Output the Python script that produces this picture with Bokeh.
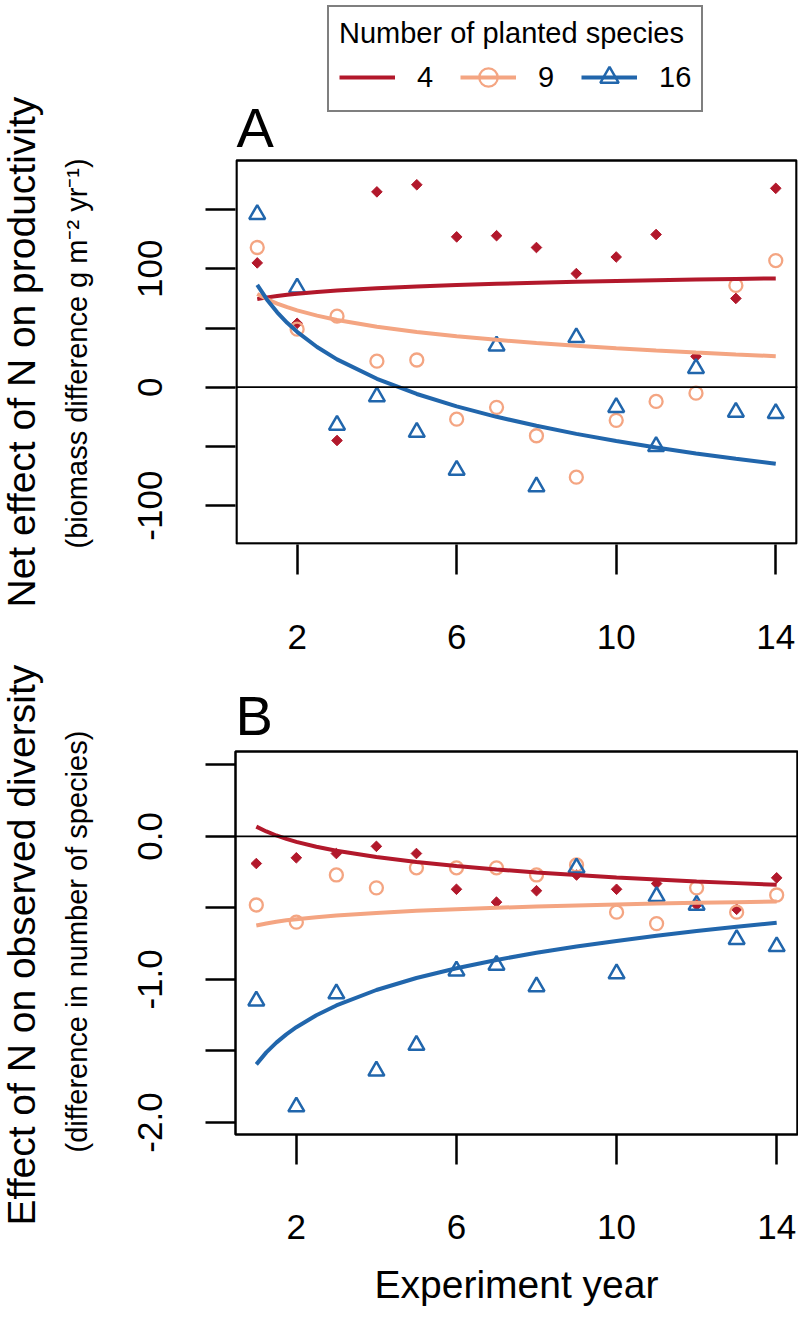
import math
from bokeh.plotting import figure
from bokeh.models import (Span, Title, Label, Legend, LegendItem, FixedTicker,
                          Range1d, BoxAnnotation)
from bokeh.layouts import column
from bokeh.embed import file_html
from bokeh.resources import INLINE

# ---------------- data ----------------
years = [1, 2, 3, 4, 5, 6, 7, 8, 9, 10, 11, 12, 13, 14]
x_ticks = [2, 6, 10, 14]

# Panel A: net effect of N on productivity (g m-2 yr-1)
a_red = [105, 54, -45, 165, 171, 127, 128, 118, 96, 110, 129, 26, 75, 168]
a_orange = [118, 49, 60, 22, 23, -27, -17, -41, -76, -28, -12, -5, 86, 107]
a_blue = [146, 84, -32, -8, -38, -70, 35, -84, 42, -17, -50, 16, -21, -22]

fit_x = [1, 1.25, 1.5, 1.75, 2, 2.5, 3, 4, 5, 6, 7, 8, 9, 10, 11, 12, 13, 14]
a_red_fit = [74.4, 75.9, 77.1, 78.1, 79.0, 80.5, 81.7, 83.6, 85.1, 86.3, 87.3,
             88.2, 89.0, 89.7, 90.3, 90.9, 91.4, 91.9]
a_orange_fit = [78.7, 74.3, 70.6, 67.6, 64.9, 60.5, 56.8, 51.1, 46.7, 43.0, 40.0,
                37.3, 35.0, 32.9, 31.0, 29.3, 27.7, 26.2]
a_blue_fit = [86.5, 73.7, 63.3, 54.4, 46.8, 34.0, 23.5, 7.1, -5.7, -16.2, -25.0,
              -32.6, -39.4, -45.4, -50.9, -55.9, -60.5, -64.7]

a_ylim = (-132, 191.5)
a_ticks = [-100, -50, 0, 50, 100, 150]
a_tick_labels = ["-100", "", "0", "", "100", ""]

# Panel B: effect of N on observed diversity (number of species)
b_red = [-0.19, -0.15, -0.12, -0.07, -0.12, -0.37, -0.46, -0.38, -0.27, -0.37,
         -0.33, -0.48, -0.51, -0.29]
b_orange = [-0.48, -0.60, -0.27, -0.36, -0.22, -0.22, -0.22, -0.27, -0.20, -0.53,
            -0.61, -0.36, -0.53, -0.41]
b_blue = [-1.15, -1.89, -1.10, -1.64, -1.46, -0.94, -0.90, -1.05, -0.22, -0.96,
          -0.42, -0.48, -0.72, -0.77]

b_red_fit = [0.068, 0.034, 0.006, -0.018, -0.039, -0.073, -0.101, -0.145, -0.180,
             -0.208, -0.232, -0.252, -0.270, -0.287, -0.301, -0.315, -0.327, -0.339]
b_orange_fit = [-0.623, -0.609, -0.597, -0.587, -0.579, -0.565, -0.553, -0.535,
                -0.520, -0.509, -0.499, -0.491, -0.483, -0.476, -0.470, -0.465,
                -0.460, -0.455]
b_blue_fit = [-1.594, -1.510, -1.442, -1.384, -1.334, -1.250, -1.182, -1.074,
              -0.990, -0.922, -0.864, -0.814, -0.770, -0.731, -0.695, -0.662,
              -0.632, -0.604]

b_ylim = (-2.084, 0.593)
b_ticks = [-2.0, -1.5, -1.0, -0.5, 0.0, 0.5]
b_tick_labels = ["-2.0", "", "-1.0", "", "0.0", ""]

series_names = ["4", "9", "16"]
legend_title = "Number of planted species"
x_label = "Experiment year"
a_main = "Net effect of N on productivity"
a_sub = "(biomass difference g m\u207b\u00b2 yr\u207b\u00b9)"
b_main = "Effect of N on observed diversity"
b_sub = "(difference in number of species)"

# ---------------- style ----------------
FONT = "Liberation Sans"
RED = "#B2182B"
ORANGE = "#F4A582"
BLUE = "#2166AC"
X_LIM = (0.48, 14.52)
PANEL_W = 562            # px between x = 0.48 and x = 14.52
PANEL_H = 383            # px of the data box
SUB_STANDOFF = 81
MAIN_STANDOFF = -44
A_HEIGHT = 660
B_HEIGHT = 1325 - A_HEIGHT


def style(p):
    p.xgrid.grid_line_color = None
    p.ygrid.grid_line_color = None
    p.background_fill_color = "white"
    p.border_fill_color = "white"
    for ax in p.axis:
        ax.axis_line_color = None
        ax.major_tick_out = 30
        ax.major_tick_in = 0
        ax.major_tick_line_width = 2.5
        ax.major_tick_line_color = "black"
        ax.minor_tick_line_color = None
        ax.major_label_text_font = FONT
        ax.major_label_text_font_size = "35px"
        ax.major_label_text_color = "black"
        ax.axis_label_text_font = FONT
        ax.axis_label_text_font_style = "normal"
        ax.axis_label_text_color = "black"
    p.xaxis.ticker = FixedTicker(ticks=x_ticks)
    p.xaxis.major_label_standoff = 50
    p.yaxis.major_label_orientation = "vertical"
    p.yaxis.major_label_standoff = 43


def left_titles(p, sub, main, align, sub_offset=0, main_offset=0):
    p.add_layout(Title(text=sub, align=align, offset=sub_offset,
                       vertical_align="top", standoff=SUB_STANDOFF,
                       text_font=FONT, text_font_size="29px",
                       text_font_style="normal", text_color="black"), "left")
    p.add_layout(Title(text=main, align=align, offset=main_offset,
                       vertical_align="bottom", standoff=MAIN_STANDOFF,
                       text_font=FONT, text_font_size="39px",
                       text_font_style="normal", text_color="black"), "left")


def draw_series(p, pts, fits):
    (xr, yr_), (xo, yo), (xb, yb) = pts
    p.scatter(xr, yr_, marker="square", angle=math.pi / 4, size=7.5,
              fill_color=RED, line_color=RED)
    o_pts = p.scatter(xo, yo, marker="circle", size=13, fill_color=None,
                      line_color=ORANGE, line_width=2.3)
    b_pts = p.scatter(xb, yb, marker="triangle", size=16, fill_color=None,
                      line_color=BLUE, line_width=2.5)
    fr, fo, fb = fits
    r_line = p.line(fit_x, fr, line_color=RED, line_width=4)
    o_line = p.line(fit_x, fo, line_color=ORANGE, line_width=4)
    b_line = p.line(fit_x, fb, line_color=BLUE, line_width=4)
    return r_line, o_line, b_line, o_pts, b_pts


# ---------- panel A: frame extended up to the page top (legend + letter inside)
xpu = PANEL_W / (X_LIM[1] - X_LIM[0])
ypu_a = PANEL_H / (a_ylim[1] - a_ylim[0])
a_top_px = 160
a_frame_h = a_top_px + PANEL_H + 1
xr_a = Range1d(X_LIM[0] - 1 / xpu, X_LIM[1] + 1 / xpu)
yr_a = Range1d(a_ylim[0] - 1 / ypu_a, a_ylim[0] - 1 / ypu_a + a_frame_h / ypu_a)

pA = figure(width=798, height=A_HEIGHT, x_range=xr_a, y_range=yr_a,
            output_backend="svg", toolbar_location=None,
            min_border_left=234, min_border_right=0, min_border_top=0,
            min_border_bottom=A_HEIGHT - a_frame_h)
pA.outline_line_color = None
style(pA)
pA.yaxis.ticker = FixedTicker(ticks=a_ticks)
pA.yaxis.major_label_overrides = dict(zip(a_ticks, a_tick_labels))
# texts start at the lower end of the box, as in the reference
left_titles(pA, a_sub, a_main, "left", sub_offset=-4, main_offset=-63)

pA.add_layout(BoxAnnotation(left=X_LIM[0], right=X_LIM[1], bottom=a_ylim[0],
                            top=a_ylim[1], fill_color=None, fill_alpha=0,
                            line_color="black", line_alpha=1.0,
                            line_width=2.5))
pA.add_layout(Span(location=0, dimension="width", line_color="black",
                   line_width=1.8))
rA = draw_series(pA, [(years, a_red), (years, a_orange), (years, a_blue)],
                 [a_red_fit, a_orange_fit, a_blue_fit])
pA.add_layout(Label(x=X_LIM[0], y=a_ylim[1] + 33 / ypu_a, text="A",
                    text_font=FONT, text_font_size="56px", text_align="left",
                    text_baseline="alphabetic", text_color="black"))

r_line, o_line, b_line, o_pts, b_pts = rA
legend = Legend(
    items=[LegendItem(label=series_names[0], renderers=[r_line]),
           LegendItem(label=series_names[1], renderers=[o_line, o_pts]),
           LegendItem(label=series_names[2], renderers=[b_line, b_pts])],
    title=legend_title, orientation="horizontal",
    location=(92, a_frame_h - 112),
    border_line_color="black", border_line_width=2.5,
    background_fill_color="white", background_fill_alpha=1.0,
    title_text_font=FONT, title_text_font_size="29px",
    title_text_font_style="normal", title_text_color="black",
    label_text_font=FONT, label_text_color="black",
    label_text_font_size="29px", glyph_width=56, glyph_height=46,
    label_standoff=22, spacing=23, padding=10, margin=0, label_width=20,
    label_height=46, title_standoff=4)
pA.add_layout(legend)

# ---------- panel B: ordinary frame
b_top = 751 - A_HEIGHT
pB = figure(width=798, height=B_HEIGHT, x_range=Range1d(*X_LIM),
            y_range=Range1d(*b_ylim), output_backend="svg",
            toolbar_location=None, min_border_left=235, min_border_right=1,
            min_border_top=b_top, min_border_bottom=B_HEIGHT - b_top - PANEL_H)
pB.outline_line_color = "black"
pB.outline_line_width = 2.5
style(pB)
pB.yaxis.ticker = FixedTicker(ticks=b_ticks)
pB.yaxis.major_label_overrides = dict(zip(b_ticks, b_tick_labels))
pB.xaxis.axis_label = x_label
pB.xaxis.axis_label_text_font_size = "39px"
pB.xaxis.axis_label_standoff = 21
left_titles(pB, b_sub, b_main, "left", sub_offset=-18, main_offset=-91)
pB.add_layout(Title(text="B", align="left", text_font=FONT,
                    text_font_size="56px", text_font_style="normal",
                    text_color="black", standoff=9), "above")
pB.add_layout(Span(location=0, dimension="width", line_color="black",
                   line_width=1.8))
draw_series(pB, [(years, b_red), (years, b_orange), (years, b_blue)],
            [b_red_fit, b_orange_fit, b_blue_fit])

layout = column(pA, pB)
open("out.html", "w").write(file_html(layout, INLINE))
